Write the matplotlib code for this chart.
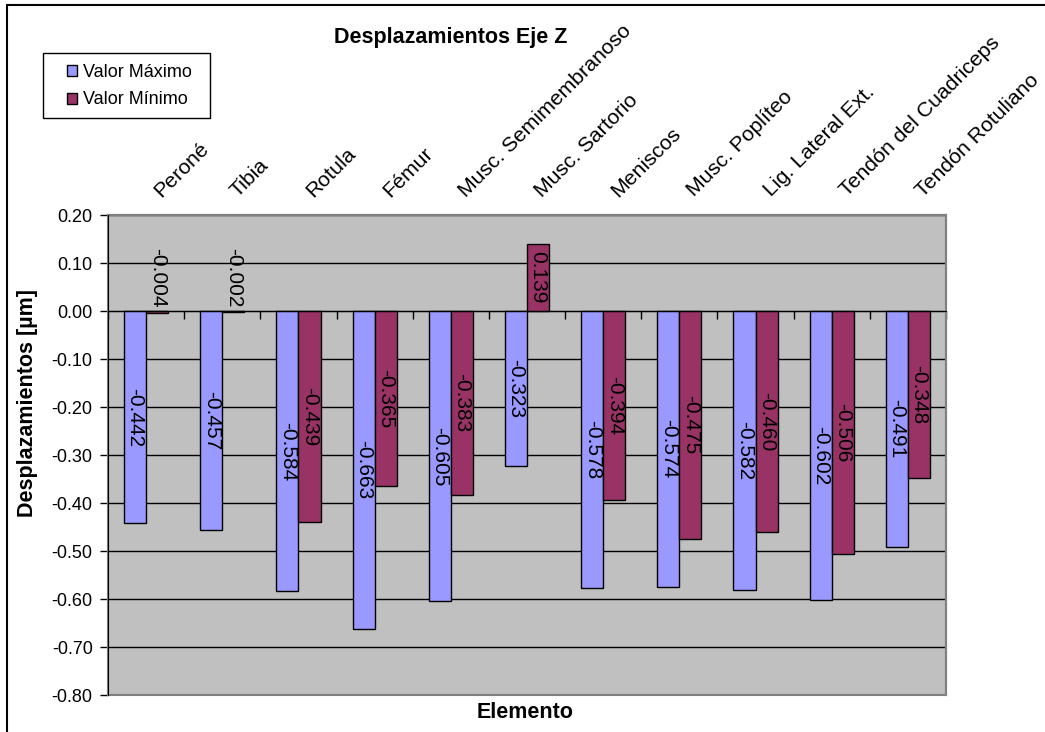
import numpy as np
import matplotlib
matplotlib.use("Agg")
import matplotlib.pyplot as plt
from matplotlib.patches import Rectangle

plt.rcParams['font.family'] = ['Liberation Sans', 'DejaVu Sans']

elementos = ["Peroné", "Tibia", "Rotula", "Fémur", "Musc. Semimembranoso",
             "Musc. Sartorio", "Meniscos", "Musc. Poplíteo", "Lig. Lateral Ext.",
             "Tendón del Cuadriceps", "Tendón Rotuliano"]
valor_maximo = [-0.442, -0.457, -0.584, -0.663, -0.605, -0.323,
                -0.578, -0.574, -0.582, -0.602, -0.491]
valor_minimo = [-0.004, -0.002, -0.439, -0.365, -0.383, 0.139,
                -0.394, -0.475, -0.460, -0.506, -0.348]
yticks = [0.2, 0.1, 0.0, -0.1, -0.2, -0.3, -0.4, -0.5, -0.6, -0.7, -0.8]

W, H = 1045, 732
fig = plt.figure(figsize=(W / 100, H / 100), dpi=100)
fig.patch.set_facecolor('white')

# plot area in pixels: left 108, right 946, top 215, bottom 695
ax = fig.add_axes([108 / W, (H - 695) / H, (946 - 108) / W, (695 - 215) / H])
ax.set_facecolor('#C0C0C0')

x = np.arange(len(elementos))
w = 0.29
ax.bar(x - w / 2, valor_maximo, w, color='#9999FF', edgecolor='black', lw=1,
       label='Valor Máximo', zorder=3)
ax.bar(x + w / 2, valor_minimo, w, color='#993366', edgecolor='black', lw=1,
       label='Valor Mínimo', zorder=3)

# data labels, rotated, centred in the bar (tiny bars get theirs above zero)
for xs, vals in ((x - w / 2, valor_maximo), (x + w / 2, valor_minimo)):
    for xi, v in zip(xs, vals):
        yl = v / 2 if abs(v) > 0.05 else 0.07
        ax.text(xi, yl, "%.3f" % v, rotation=270, ha='center', va='center',
                fontsize=15, zorder=4)

ax.set_xlim(-0.5, len(elementos) - 0.5)
ax.set_ylim(-0.8, 0.2)
ax.set_yticks(yticks)
ax.set_yticklabels(["%.2f" % t for t in yticks], fontsize=13)
ax.yaxis.grid(True, color='black', lw=1)
ax.set_axisbelow(True)
ax.tick_params(axis='y', direction='out', length=6, width=1, pad=5)

# category axis sits on y=0
ax.spines['bottom'].set_position(('data', 0))
ax.spines['bottom'].set_color('black')
ax.spines['bottom'].set_zorder(5)
ax.set_xticks(np.arange(-0.5, len(elementos), 1.0))
ax.set_xticklabels([])
ax.tick_params(axis='x', direction='out', length=6, width=1)
ax.spines['left'].set_color('black')
ax.spines['left'].set_zorder(5)
ax.spines['top'].set_color('#808080')
ax.spines['right'].set_color('#808080')
ax.spines['top'].set_linewidth(1.5)
ax.spines['right'].set_linewidth(1.5)
ax.add_patch(Rectangle((0, 0), 1, 1, transform=ax.transAxes, fill=False,
                       edgecolor='#808080', lw=1.5, zorder=2, clip_on=False))

# category names above the plot area
for xi, name in zip(x, elementos):
    ax.annotate(name, xy=(xi, 1), xycoords=('data', 'axes fraction'),
                xytext=(11, 12.5), textcoords='offset points', rotation=45,
                rotation_mode='anchor', ha='left', va='baseline', fontsize=15.3)

fig.text(451 / W, 1 - 37 / H, "Desplazamientos Eje Z", ha='center', va='center',
         fontsize=15.5, fontweight='bold')
fig.text(28 / W, 1 - 403 / H, "Desplazamientos [µm]", rotation=90, ha='center',
         va='center', fontsize=15.5, fontweight='bold')
fig.text(525 / W, 1 - 712 / H, "Elemento", ha='center', va='center',
         fontsize=15.5, fontweight='bold')

# legend box
fig.patches.append(Rectangle((43 / W, 1 - 118 / H), (210 - 43) / W, (118 - 53) / H,
                             transform=fig.transFigure, fill=False,
                             edgecolor='black', lw=1))
fig.legend(loc='upper left', bbox_to_anchor=(54 / W, 1 - 51 / H), frameon=False,
           fontsize=13, handlelength=0.55, handleheight=0.55, handletextpad=0.35,
           labelspacing=0.6, borderpad=0.2)

# outer chart border
fig.patches.append(Rectangle((7 / W, -0.1), 1.2, 1 - 5 / H + 0.1,
                             transform=fig.transFigure, fill=False,
                             edgecolor='black', lw=1.5))

fig.savefig("out.png", dpi=100)
